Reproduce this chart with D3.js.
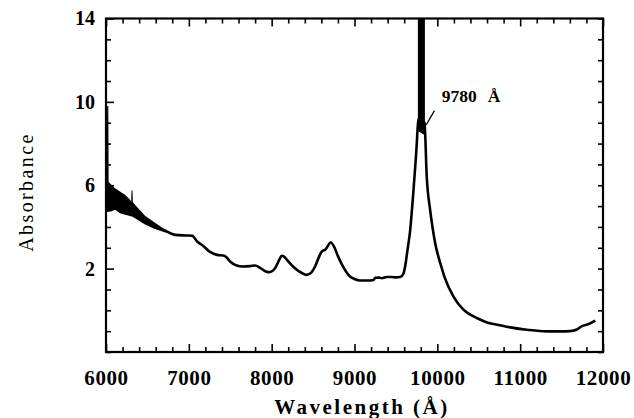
<!DOCTYPE html>
<html>
<head>
    <meta charset="UTF-8">
    <script src="https://d3js.org/d3.v7.min.js"></script>
    <style>
        body { margin: 0; background: #fff; }
        .tick text { font-family: "Liberation Serif", serif; font-weight: bold; fill: #000; }
        .axis-x .tick text { font-size: 21px; letter-spacing: 0.6px; }
        .axis-y .tick text { font-size: 20px; }
        .tick line { stroke: #000; stroke-width: 1.6; }
        .domain { display: none; }
    </style>
</head>
<body>
    <svg id="chart" width="634" height="418"></svg>

    <script>
        // tick values
        const xMajor = [6000, 7000, 8000, 9000, 10000, 11000, 12000];
        const yMajor = [2, 6, 10, 14];

        // main spectrum (wavelength in A, absorbance)
        const wavelength = [6000, 6100, 6200, 6300, 6400, 6471, 6531, 6600, 6733, 6833, 6954, 7040, 7100, 7171,
            7256, 7340, 7417, 7460, 7498, 7578, 7650, 7739, 7800, 7860, 7920, 7960, 8000, 8041, 8101, 8122,
            8150, 8200, 8261, 8330, 8424, 8480, 8524, 8570, 8604, 8650, 8713, 8760, 8800, 8862, 8946, 9000,
            9068, 9188, 9230, 9249, 9300, 9330, 9390, 9450, 9500, 9551, 9590, 9611, 9640, 9671, 9711, 9744,
            9775, 9845, 9872, 9913, 9945, 9973, 10040, 10085, 10195, 10315, 10477, 10600, 10758, 10879, 11080,
            11322, 11500, 11600, 11685, 11745, 11825, 11906];
        const absorbance = [5.4, 5.2, 5.0, 4.85, 4.55, 4.3, 4.1, 3.97, 3.78, 3.62, 3.59, 3.58, 3.3, 3.1,
            2.8, 2.66, 2.63, 2.52, 2.34, 2.15, 2.1, 2.12, 2.15, 2.04, 1.88, 1.83, 1.87, 2.02, 2.5, 2.62,
            2.58, 2.35, 2.09, 1.87, 1.7, 1.82, 2.1, 2.55, 2.82, 2.92, 3.25, 3.0, 2.6, 2.1, 1.62, 1.5,
            1.43, 1.43, 1.45, 1.56, 1.57, 1.54, 1.6, 1.6, 1.58, 1.6, 1.75, 2.1, 2.9, 3.8, 5.7, 7.5,
            9.2, 9.0, 6.42, 4.82, 3.9, 3.24, 2.2, 1.62, 0.66, 0.03, -0.37, -0.58, -0.72, -0.82, -0.93,
            -1.01, -1.01, -1.0, -0.92, -0.76, -0.66, -0.49];

        // noisy region at the short wavelength end (lower and upper edge)
        const noiseWl = [6006, 6014, 6028, 6032, 6060, 6109, 6169, 6230, 6290, 6304, 6308, 6320, 6324, 6350, 6411, 6471, 6592, 6690, 6730];
        const noiseLo = [4.72, 4.72, 4.72, 4.74, 4.74, 4.82, 4.66, 4.58, 4.53, 4.5, 4.5, 4.5, 4.48, 4.42, 4.26, 4.12, 3.9, 3.78, 3.76];
        const noiseHi = [6.15, 9.8, 9.8, 6.15, 6.05, 5.86, 5.7, 5.54, 5.3, 5.22, 5.75, 5.75, 5.2, 5.06, 4.8, 4.54, 4.2, 3.94, 3.86];

        // saturated part of the 9780 A band
        const peakWl = [9765, 9850];
        const peakLo = [8.6, 8.4];
        const peakHi = [14, 14];

        // annotation
        const noteText = "9780";
        const notePos = [10054, 10.0];
        const leader = [[9965, 9.58], [9865, 8.89]];

        let margin = {top: 18.5, right: 31, bottom: 66, left: 106},
            width = 634 - margin.left - margin.right,
            height = 418 - margin.top - margin.bottom;

        let svg = d3.select("#chart");
        let chart = svg.append("g")
            .attr("transform", "translate(" + margin.left + "," + margin.top + ")");

        let xScale = d3.scaleLinear().domain([6000, 12000]).range([0, width]);
        let yScale = d3.scaleLinear().domain([-2, 14]).range([height, 0]);

        let xMinor = d3.range(6000, 12001, 200).filter(v => v % 1000 !== 0);
        let yMinor = d3.range(-2, 15, 1).filter(v => !yMajor.includes(v));

        svg.append("defs").append("clipPath").attr("id", "plot")
            .append("rect").attr("width", width).attr("height", height);

        // ticks, all pointing inwards
        chart.append("g").attr("class", "axis axis-x")
            .attr("transform", "translate(0," + height + ")")
            .call(d3.axisBottom(xScale).tickValues(xMajor).tickSize(-8).tickPadding(18).tickFormat(d3.format("d")));
        chart.append("g").attr("class", "axis")
            .attr("transform", "translate(0," + height + ")")
            .call(d3.axisBottom(xScale).tickValues(xMinor).tickSize(-5).tickFormat(""));
        chart.append("g").attr("class", "axis")
            .call(d3.axisTop(xScale).tickValues(xMajor).tickSize(-8).tickFormat(""));
        chart.append("g").attr("class", "axis")
            .call(d3.axisTop(xScale).tickValues(xMinor).tickSize(-5).tickFormat(""));

        chart.append("g").attr("class", "axis axis-y")
            .call(d3.axisLeft(yScale).tickValues(yMajor).tickSize(-8).tickPadding(11));
        chart.append("g").attr("class", "axis")
            .call(d3.axisLeft(yScale).tickValues(yMinor).tickSize(-5).tickFormat(""));
        chart.append("g").attr("class", "axis")
            .attr("transform", "translate(" + width + ",0)")
            .call(d3.axisRight(yScale).tickValues(yMinor.concat(yMajor)).tickSize(-5).tickFormat(""));

        // noise bands
        let band = d3.area()
            .x(d => xScale(d[0]))
            .y0(d => yScale(d[1]))
            .y1(d => yScale(d[2]));

        let plot = chart.append("g").attr("clip-path", "url(#plot)");

        plot.append("path")
            .datum(noiseWl.map((w, i) => [w, noiseLo[i], noiseHi[i]]))
            .attr("d", band)
            .attr("fill", "#000");

        plot.append("path")
            .datum(peakWl.map((w, i) => [w, peakLo[i], peakHi[i]]))
            .attr("d", band)
            .attr("fill", "#000");

        let line = d3.line()
            .x(d => xScale(d[0]))
            .y(d => yScale(d[1]))
            .curve(d3.curveMonotoneX);

        plot.append("path")
            .datum(wavelength.map((w, i) => [w, absorbance[i]]))
            .attr("d", line)
            .attr("fill", "none")
            .attr("stroke", "#000")
            .attr("stroke-width", 2.6)
            .attr("stroke-linejoin", "round");

        // frame
        chart.append("rect")
            .attr("x", xScale.range()[0])
            .attr("y", yScale.range()[1])
            .attr("width", width)
            .attr("height", height)
            .attr("fill", "none")
            .attr("stroke", "#000")
            .attr("stroke-width", 2.2);

        // annotation
        let note = chart.append("text")
            .attr("x", xScale(notePos[0]))
            .attr("y", yScale(notePos[1]))
            .style("font-family", "Liberation Serif, serif")
            .style("font-weight", "bold")
            .style("font-size", "17.5px");
        note.append("tspan").text(noteText);
        note.append("tspan").attr("dx", 11).text("Å");

        chart.append("line")
            .attr("x1", xScale(leader[0][0])).attr("y1", yScale(leader[0][1]))
            .attr("x2", xScale(leader[1][0])).attr("y2", yScale(leader[1][1]))
            .attr("stroke", "#000").attr("stroke-width", 1.3);

        // axis titles
        svg.append("text")
            .attr("x", 362)
            .attr("y", 414)
            .attr("text-anchor", "middle")
            .style("font-family", "Liberation Serif, serif")
            .style("font-weight", "bold")
            .style("font-size", "21px")
            .style("letter-spacing", "2.5px")
            .text("Wavelength (Å)");

        svg.append("text")
            .attr("transform", "translate(33,192) rotate(-90)")
            .attr("text-anchor", "middle")
            .style("font-family", "Liberation Serif, serif")
            .style("font-size", "20px")
            .style("letter-spacing", "2.4px")
            .text("Absorbance");
    </script>
</body>
</html>
